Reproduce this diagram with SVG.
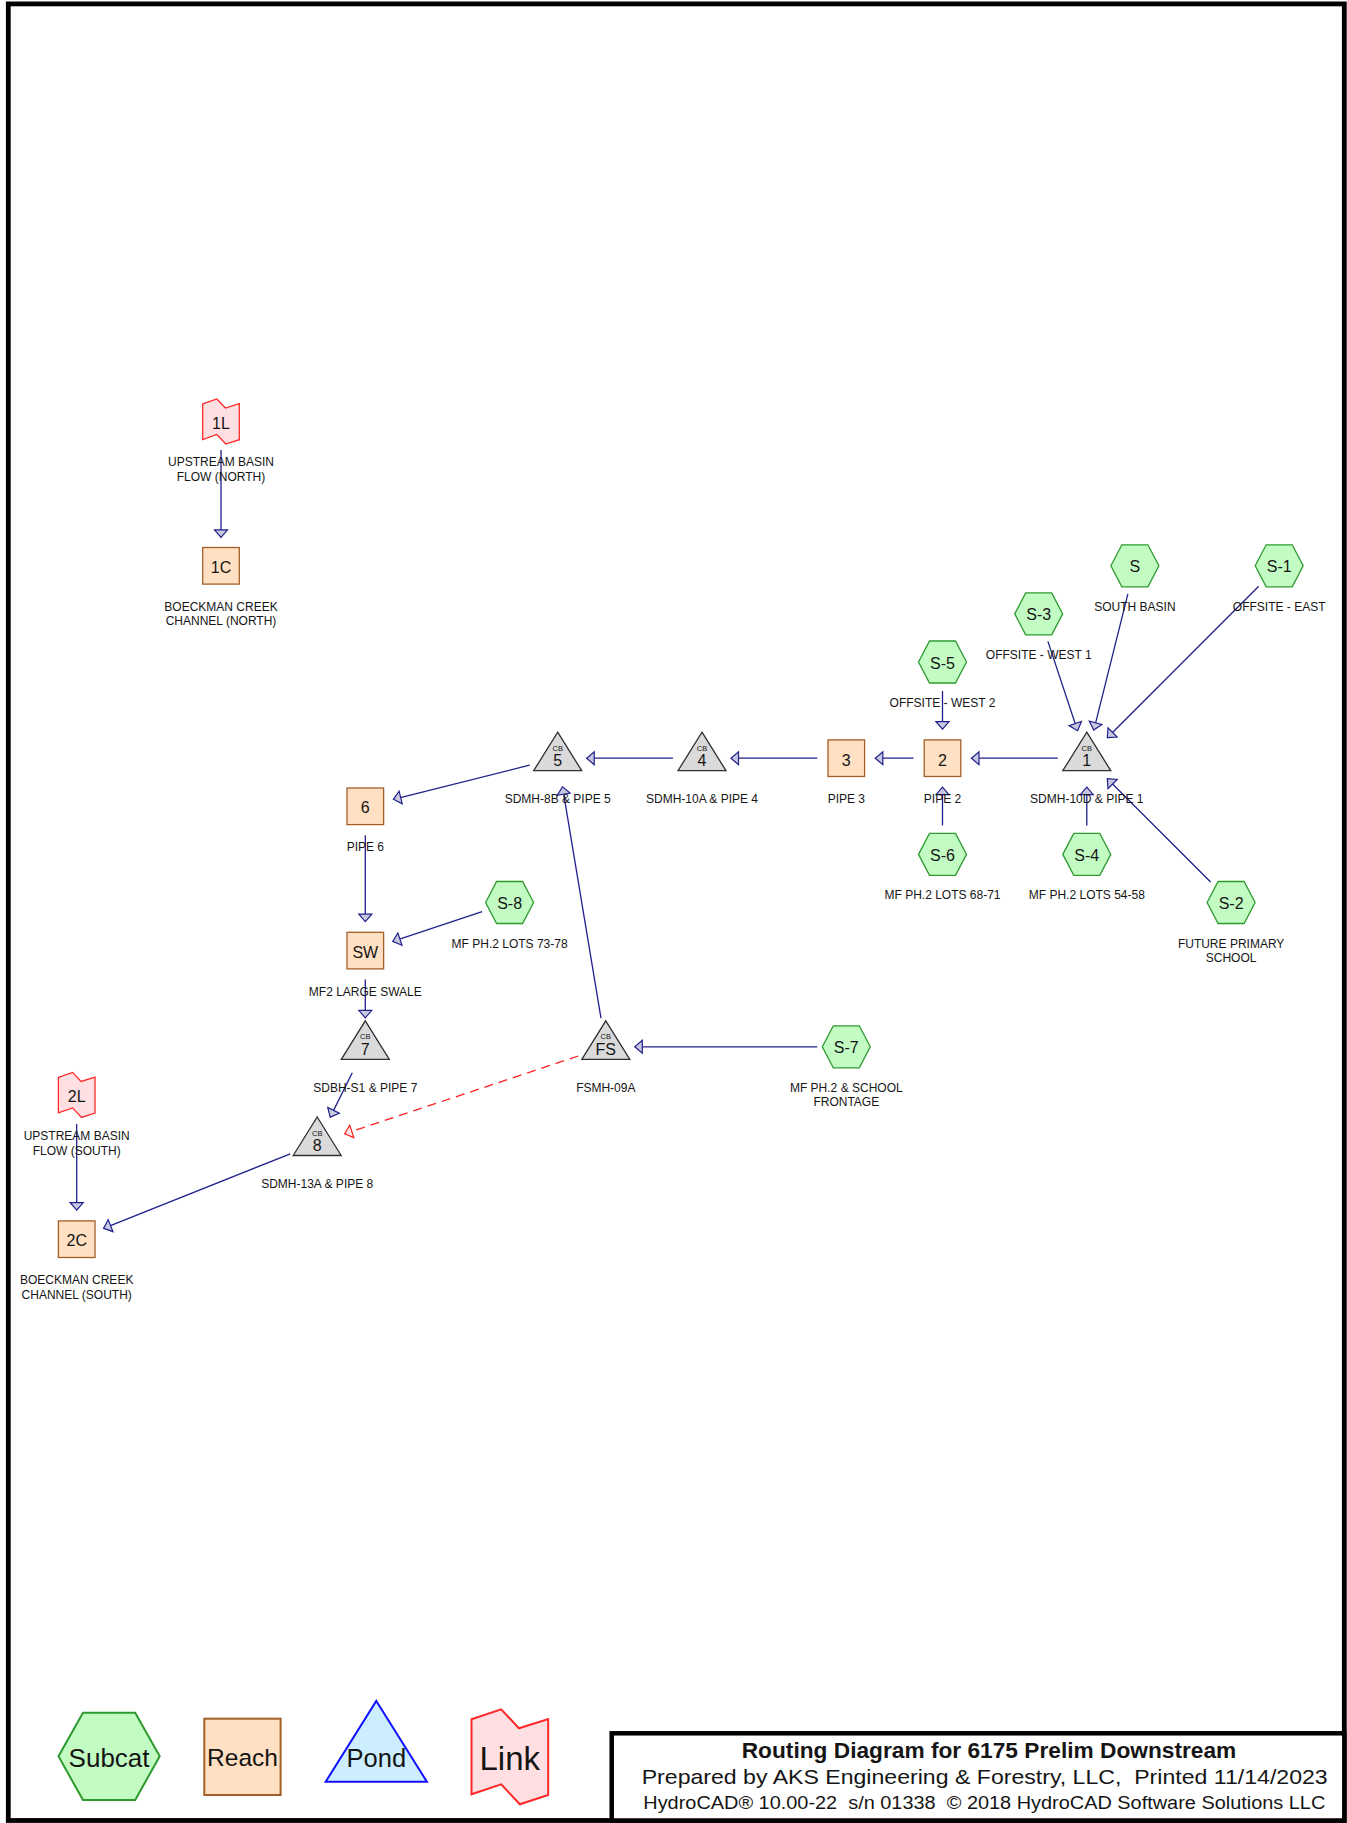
<svg xmlns="http://www.w3.org/2000/svg" xmlns:xlink="http://www.w3.org/1999/xlink" width="1347" height="1823" viewBox="0 0 1347 1823">
<style>
.sub{fill:#c3fcc3;stroke:#2e9a2e;stroke-width:1.3}
.rch{fill:#ffe0c2;stroke:#a35f28;stroke-width:1.3}
.pnd{fill:#dadada;stroke:#303030;stroke-width:1.3}
.lnk{fill:#ffdfe2;stroke:#ff2828;stroke-width:1.3}
.c{stroke:#20208c;stroke-width:1.3;fill:none;marker-end:url(#a)}
.cd{stroke:#ff2020;stroke-width:1.3;fill:none;stroke-dasharray:9 6;marker-end:url(#ar)}
text{font-family:"Liberation Sans",Arial,sans-serif;fill:#151515;text-anchor:middle}
.n{font-size:16px}
.l{font-size:12px}
.cb{font-size:7.5px}
.t{text-anchor:start;white-space:pre}
</style>
<defs>
<marker id="a" markerUnits="userSpaceOnUse" markerWidth="12" markerHeight="16" viewBox="0 0 12 16" refX="10" refY="8" orient="auto"><path d="M10,8 L2.5,1.5 L2.5,14.5 Z" fill="#c8c8e0" stroke="#20208c" stroke-width="1.2"/></marker>
<marker id="ar" markerUnits="userSpaceOnUse" markerWidth="12" markerHeight="16" viewBox="0 0 12 16" refX="10" refY="8" orient="auto"><path d="M10,8 L2.5,1.5 L2.5,14.5 Z" fill="#ffe6e6" stroke="#ff2020" stroke-width="1.2"/></marker>
<polygon id="hex" points="-24,0 -13,-21 13,-21 24,0 13,21 -13,21"/>
<rect id="box" x="-18.3" y="-18.3" width="36.6" height="36.6"/>
<polygon id="tri" points="0,-26 24,12.5 -24,12.5"/>
<polygon id="lk" points="-18.3,-17.6 -4.1,-22.5 4.4,-13.5 18.3,-17.8 18.3,18.2 4.8,22.5 -4.1,13 -18.3,18"/>
</defs>
<rect x="0" y="0" width="1347" height="1823" fill="#fff"/>
<rect x="8.3" y="3.9" width="1336" height="1816.6" fill="none" stroke="#000" stroke-width="4.8"/>

<g id="connectors">
<line class="c" x1="221" y1="450" x2="221" y2="537.3"/>
<line class="c" x1="76.7" y1="1123.9" x2="76.7" y2="1210.2"/>
<line class="c" x1="1047.9" y1="641.4" x2="1077.6" y2="730.7"/>
<line class="c" x1="1127.9" y1="593.9" x2="1093.8" y2="730.1"/>
<line class="c" x1="1258.7" y1="586.3" x2="1107.3" y2="737.7"/>
<line class="c" x1="1210.6" y1="882" x2="1107.3" y2="778.7"/>
<line class="c" x1="1086.8" y1="825.4" x2="1086.8" y2="787.2"/>
<line class="c" x1="1057.8" y1="758.2" x2="971.5" y2="758.2"/>
<line class="c" x1="942.5" y1="691" x2="942.5" y2="729.2"/>
<line class="c" x1="942.5" y1="825.4" x2="942.5" y2="787.2"/>
<line class="c" x1="913.5" y1="758.2" x2="875.3" y2="758.2"/>
<line class="c" x1="817.3" y1="758.2" x2="731" y2="758.2"/>
<line class="c" x1="673" y1="758.2" x2="586.7" y2="758.2"/>
<line class="c" x1="529.6" y1="765.2" x2="393.4" y2="799.3"/>
<line class="c" x1="601" y1="1018.2" x2="562.5" y2="786.8"/>
<line class="c" x1="817.3" y1="1046.8" x2="634.8" y2="1046.8"/>
<line class="c" x1="365.3" y1="835.3" x2="365.3" y2="921.6"/>
<line class="c" x1="482.1" y1="911.7" x2="392.8" y2="941.4"/>
<line class="c" x1="365.3" y1="979.6" x2="365.3" y2="1017.8"/>
<line class="c" x1="352.3" y1="1072.7" x2="330.2" y2="1117.1"/>
<line class="cd" x1="578.3" y1="1056" x2="344.7" y2="1133.8"/>
<line class="c" x1="290.3" y1="1153.8" x2="103.6" y2="1228.4"/>
</g>

<g id="node-1L" transform="translate(221,421.5)"><use xlink:href="#lk" class="lnk"/><text class="n" y="7">1L</text><text class="l" y="44.5">UPSTREAM BASIN</text><text class="l" y="59">FLOW (NORTH)</text></g>
<g id="node-1C" transform="translate(221,565.8)"><use xlink:href="#box" class="rch"/><text class="n" y="7">1C</text><text class="l" y="45.5">BOECKMAN CREEK</text><text class="l" y="59">CHANNEL (NORTH)</text></g>
<g id="node-2L" transform="translate(76.7,1094.9)"><use xlink:href="#lk" class="lnk"/><text class="n" y="7">2L</text><text class="l" y="45">UPSTREAM BASIN</text><text class="l" y="60">FLOW (SOUTH)</text></g>
<g id="node-2C" transform="translate(76.7,1239.2)"><use xlink:href="#box" class="rch"/><text class="n" y="7">2C</text><text class="l" y="45">BOECKMAN CREEK</text><text class="l" y="60">CHANNEL (SOUTH)</text></g>
<g id="node-S" transform="translate(1134.9,565.8)"><use xlink:href="#hex" class="sub"/><text class="n" y="6.5">S</text><text class="l" y="45">SOUTH BASIN</text></g>
<g id="node-S-1" transform="translate(1279.2,565.8)"><use xlink:href="#hex" class="sub"/><text class="n" y="6.5">S-1</text><text class="l" y="45">OFFSITE - EAST</text></g>
<g id="node-S-3" transform="translate(1038.7,613.9)"><use xlink:href="#hex" class="sub"/><text class="n" y="6.5">S-3</text><text class="l" y="45">OFFSITE - WEST 1</text></g>
<g id="node-S-5" transform="translate(942.5,662)"><use xlink:href="#hex" class="sub"/><text class="n" y="6.5">S-5</text><text class="l" y="45">OFFSITE - WEST 2</text></g>
<g id="node-1" transform="translate(1086.8,758.2)"><use xlink:href="#tri" class="pnd"/><text class="cb" y="-7.5">CB</text><text class="n" y="8">1</text><text class="l" y="45">SDMH-10D &amp; PIPE 1</text></g>
<g id="node-2" transform="translate(942.5,758.2)"><use xlink:href="#box" class="rch"/><text class="n" y="7.5">2</text><text class="l" y="45">PIPE 2</text></g>
<g id="node-3" transform="translate(846.3,758.2)"><use xlink:href="#box" class="rch"/><text class="n" y="7.5">3</text><text class="l" y="45">PIPE 3</text></g>
<g id="node-4" transform="translate(702,758.2)"><use xlink:href="#tri" class="pnd"/><text class="cb" y="-7.5">CB</text><text class="n" y="8">4</text><text class="l" y="45">SDMH-10A &amp; PIPE 4</text></g>
<g id="node-5" transform="translate(557.7,758.2)"><use xlink:href="#tri" class="pnd"/><text class="cb" y="-7.5">CB</text><text class="n" y="8">5</text><text class="l" y="45">SDMH-8B &amp; PIPE 5</text></g>
<g id="node-6" transform="translate(365.3,806.3)"><use xlink:href="#box" class="rch"/><text class="n" y="7">6</text><text class="l" y="45">PIPE 6</text></g>
<g id="node-S-6" transform="translate(942.5,854.4)"><use xlink:href="#hex" class="sub"/><text class="n" y="6.5">S-6</text><text class="l" y="45">MF PH.2 LOTS 68-71</text></g>
<g id="node-S-4" transform="translate(1086.8,854.4)"><use xlink:href="#hex" class="sub"/><text class="n" y="6.5">S-4</text><text class="l" y="45">MF PH.2 LOTS 54-58</text></g>
<g id="node-S-2" transform="translate(1231.1,902.5)"><use xlink:href="#hex" class="sub"/><text class="n" y="6.5">S-2</text><text class="l" y="45.5">FUTURE PRIMARY</text><text class="l" y="59.5">SCHOOL</text></g>
<g id="node-S-8" transform="translate(509.6,902.5)"><use xlink:href="#hex" class="sub"/><text class="n" y="6.5">S-8</text><text class="l" y="45">MF PH.2 LOTS 73-78</text></g>
<g id="node-SW" transform="translate(365.3,950.6)"><use xlink:href="#box" class="rch"/><text class="n" y="7">SW</text><text class="l" y="45">MF2 LARGE SWALE</text></g>
<g id="node-7" transform="translate(365.3,1046.8)"><use xlink:href="#tri" class="pnd"/><text class="cb" y="-7.5">CB</text><text class="n" y="8">7</text><text class="l" y="45">SDBH-S1 &amp; PIPE 7</text></g>
<g id="node-FS" transform="translate(605.8,1046.8)"><use xlink:href="#tri" class="pnd"/><text class="cb" y="-7.5">CB</text><text class="n" y="8">FS</text><text class="l" y="45.5">FSMH-09A</text></g>
<g id="node-S-7" transform="translate(846.3,1046.8)"><use xlink:href="#hex" class="sub"/><text class="n" y="6.5">S-7</text><text class="l" y="45.5">MF PH.2 &amp; SCHOOL</text><text class="l" y="59.5">FRONTAGE</text></g>
<g id="node-8" transform="translate(317.2,1143)"><use xlink:href="#tri" class="pnd"/><text class="cb" y="-7.5">CB</text><text class="n" y="8">8</text><text class="l" y="45">SDMH-13A &amp; PIPE 8</text></g>

<g id="legend-subcat"><polygon class="sub" style="stroke-width:2" points="58.5,1756.3 83,1712.7 135.2,1712.7 159.7,1756.3 135.2,1800 83,1800"/><text x="109.1" y="1766.5" style="font-size:26px">Subcat</text></g>
<g id="legend-reach"><rect class="rch" style="stroke-width:2" x="204.3" y="1718.7" width="76.3" height="76.3"/><text x="242.5" y="1766" style="font-size:24.5px">Reach</text></g>
<g id="legend-pond"><polygon style="fill:#cdeeff;stroke:#1010ff;stroke-width:2" points="376.3,1701 426.9,1781.7 325.7,1781.7"/><text x="376.3" y="1766.5" style="font-size:25.5px">Pond</text></g>
<g id="legend-link"><polygon class="lnk" style="stroke-width:2" points="471.5,1719.3 501.2,1709.3 519,1728.3 548.2,1719 548.2,1795 519.8,1804.3 501.2,1784.3 471.5,1794.3"/><text x="509.8" y="1770" style="font-size:33px">Link</text></g>

<g id="title-block">
<rect x="611.7" y="1733.3" width="732.6" height="87.2" fill="#fff" stroke="#000" stroke-width="4.5"/>
<text class="t" x="741.7" y="1758" style="font-size:21.5px;font-weight:bold" textLength="494.6" lengthAdjust="spacingAndGlyphs">Routing Diagram for 6175 Prelim Downstream</text>
<text class="t" x="641.7" y="1783.5" style="font-size:21px" textLength="686" lengthAdjust="spacingAndGlyphs">Prepared by AKS Engineering &amp; Forestry, LLC,  Printed 11/14/2023</text>
<text class="t" x="643.3" y="1808.5" style="font-size:18px" textLength="682" lengthAdjust="spacingAndGlyphs">HydroCAD® 10.00-22  s/n 01338  © 2018 HydroCAD Software Solutions LLC</text>
</g>
</svg>
